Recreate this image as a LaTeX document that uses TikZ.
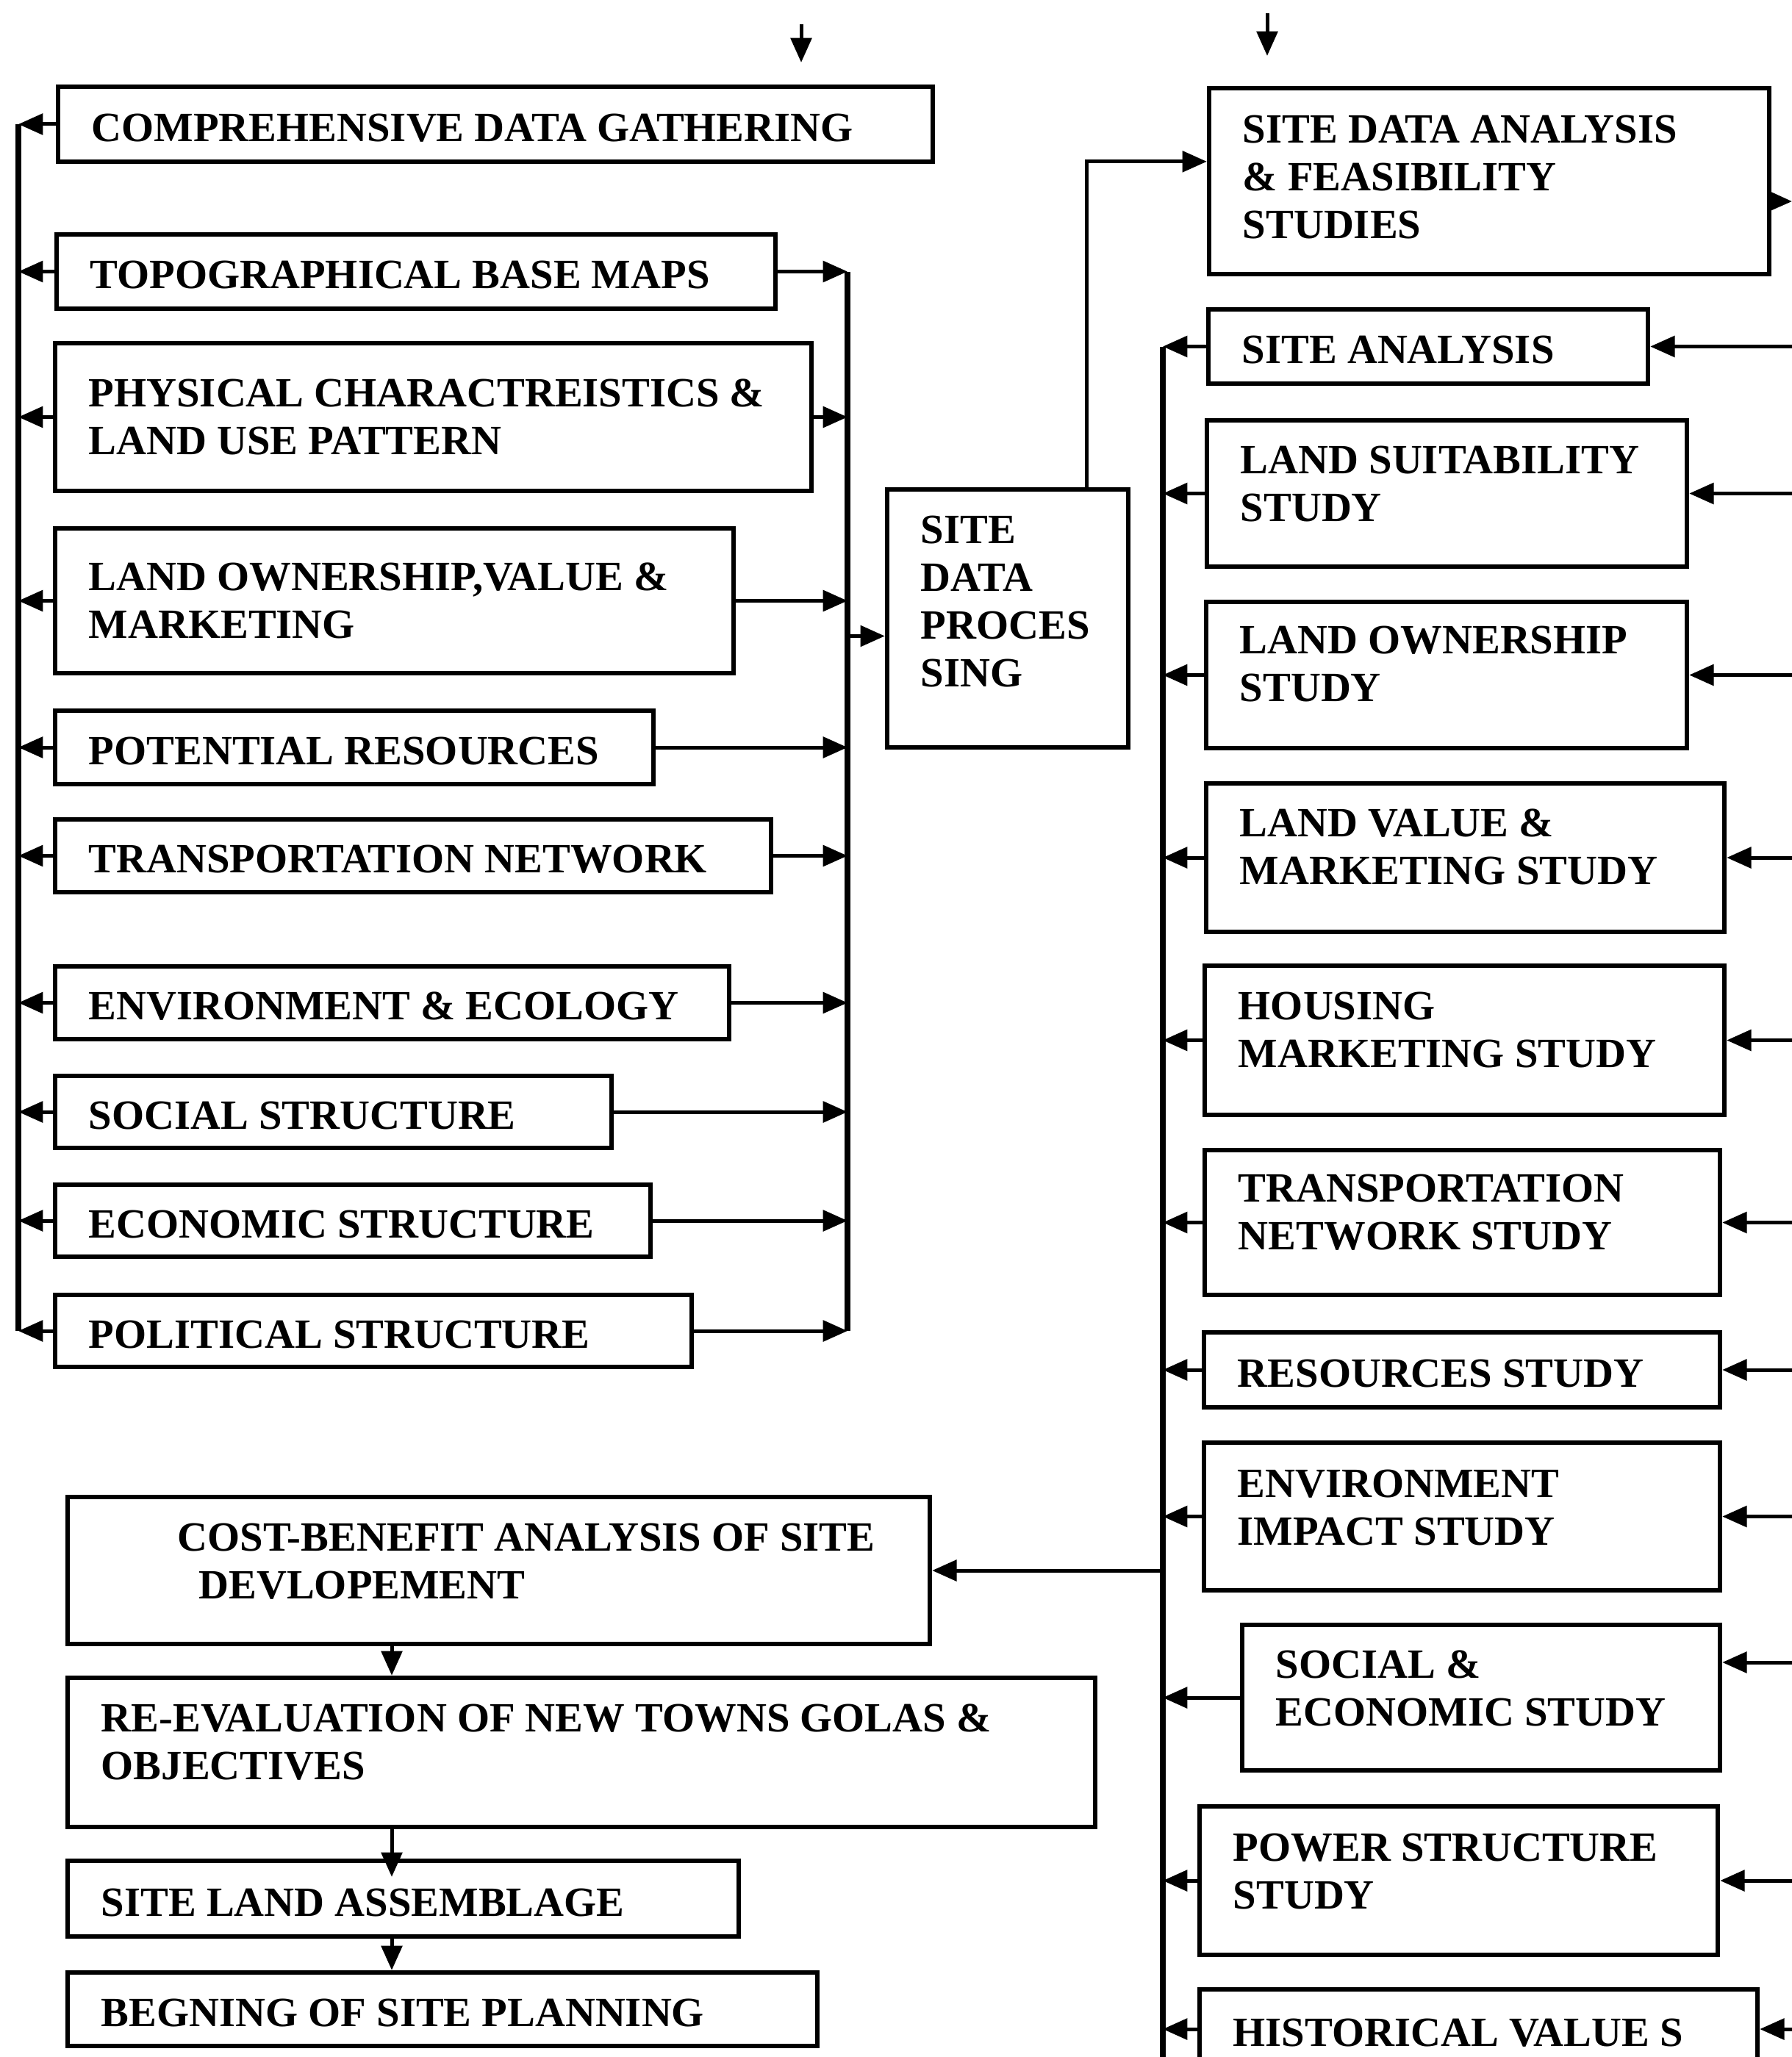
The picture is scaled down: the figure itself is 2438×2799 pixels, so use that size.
\documentclass[tikz,border=0pt]{standalone}
\usepackage{fontspec}
\setmainfont{Liberation Serif}
\usetikzlibrary{arrows.meta}

% framed box with left-set text: [lift]{name}{x1}{y1}{x2}{y2}{text}
\newcommand{\fbx}[7][-1.5pt]{%
  \pgfmathsetmacro\bxw{(#5-#3)*0.3}%
  \pgfmathsetmacro\bxh{(#6-#4)*0.3}%
  \node[fbox, minimum width=\bxw pt, minimum height=\bxh pt] (#2) at ({(#3+#5)/2},{(#4+#6)/2}) {};%
  \node[ftext] (#2-t) at ([xshift=14.5pt,yshift=#1]#2.west) {#7};%
}

\begin{document}
\begin{tikzpicture}[x=0.3pt,y=-0.3pt,
  fbox/.style={draw, line width=1.9pt, inner sep=0pt},
  ftext/.style={font=\fontsize{17}{19.5}\selectfont\bfseries, align=left, inner sep=0pt, anchor=west},
  conn/.style={line width=1.5pt, -{Triangle[length=10pt,width=8.5pt]}},
  bus/.style={line width=2.3pt}]
\useasboundingbox (0,0) rectangle (2438,2799);
\clip (0,0) rectangle (2438,2799);
\fill[white] (0,0) rectangle (2438,2799);

% data gathering column
\fbx{cdg}{79}{118}{1269}{220}{COMPREHENSIVE DATA GATHERING}
\fbx{topo}{77}{319}{1055}{420}{TOPOGRAPHICAL BASE MAPS}
\fbx[0pt]{phys}{75}{467}{1104}{668}{PHYSICAL CHARACTREISTICS \&\\LAND USE PATTERN}
\fbx[0pt]{lov}{75}{719}{998}{916}{LAND OWNERSHIP,VALUE \&\\MARKETING}
\fbx{pot}{75}{967}{889}{1067}{POTENTIAL RESOURCES}
\fbx{trn}{75}{1115}{1049}{1214}{TRANSPORTATION NETWORK}
\fbx{env}{75}{1315}{992}{1414}{ENVIRONMENT \& ECOLOGY}
\fbx{soc}{75}{1464}{832}{1562}{SOCIAL STRUCTURE}
\fbx{eco}{75}{1612}{885}{1710}{ECONOMIC STRUCTURE}
\fbx{pol}{75}{1762}{941}{1860}{POLITICAL STRUCTURE}

% processing
\fbx[7pt]{sdp}{1207}{666}{1535}{1017}{SITE\\DATA\\PROCES\\SING}

% analysis column
\fbx[1.6pt]{sda}{1645}{120}{2407}{373}{SITE DATA ANALYSIS\\\& FEASIBILITY\\STUDIES}
\fbx{sa}{1644}{421}{2242}{522}{SITE ANALYSIS}
\fbx[3.8pt]{lss}{1642}{572}{2295}{771}{LAND SUITABILITY\\STUDY}
\fbx[4.5pt]{los}{1641}{819}{2295}{1018}{LAND OWNERSHIP\\STUDY}
\fbx[4.5pt]{lvm}{1641}{1066}{2346}{1268}{LAND VALUE \&\\MARKETING STUDY}
\fbx[4.3pt]{hms}{1639}{1314}{2346}{1517}{HOUSING\\MARKETING STUDY}
\fbx[4.3pt]{tns}{1639}{1565}{2340}{1762}{TRANSPORTATION\\NETWORK STUDY}
\fbx{rs}{1638}{1813}{2340}{1915}{RESOURCES STUDY}
\fbx[3.5pt]{eis}{1638}{1963}{2340}{2164}{ENVIRONMENT\\IMPACT STUDY}
\fbx[3.8pt]{ses}{1690}{2211}{2340}{2409}{SOCIAL \&\\ECONOMIC STUDY}
\fbx[3.8pt]{pss}{1632}{2458}{2337}{2660}{POWER STRUCTURE\\STUDY}
\fbx{hv}{1632}{2707}{2391}{2815}{HISTORICAL VALUE S}

% evaluation chain
\fbx[3.8pt]{cb}{92}{2037}{1265}{2237}{\hspace*{31.2pt}COST-BENEFIT ANALYSIS OF SITE\\\hspace*{39.8pt}DEVLOPEMENT}
\fbx[4.3pt]{re}{92}{2283}{1490}{2486}{RE-EVALUATION OF NEW TOWNS GOLAS \&\\OBJECTIVES}
\fbx{sla}{92}{2532}{1005}{2635}{SITE LAND ASSEMBLAGE}
\fbx{beg}{92}{2684}{1112}{2784}{BEGNING OF SITE PLANNING}

% bus positions and free ends
\coordinate (lbus) at (25,0);
\coordinate (mbus) at (1153,0);
\coordinate (rbus) at (1582,0);
\coordinate (redge) at (2438,0);
\coordinate (vcol) at (533,0);
\coordinate (rbusend) at (1582,2799);
\coordinate (in1a) at (1090,33);
\coordinate (in1b) at (1090,85);
\coordinate (in2a) at (1724,18);
\coordinate (in2b) at (1724,76);
\coordinate (sdaout) at (2438,274);

% incoming arrows at the top
\draw[conn] (in1a) -- (in1b);
\draw[conn] (in2a) -- (in2b);

% left collector
\draw[bus] (cdg.west -| lbus) -- (pol.west -| lbus);
\foreach \n in {cdg,topo,phys,lov,pot,trn,env,soc,eco,pol}
  \draw[conn] (\n.west) -- (\n.west -| lbus);

% right collector into processing
\draw[bus] (topo.east -| mbus) -- (pol.east -| mbus);
\foreach \n in {topo,phys,lov,pot,trn,env,soc,eco,pol}
  \draw[conn] (\n.east) -- (\n.east -| mbus);
\draw[conn] ([yshift=-7.2pt]sdp.west -| mbus) -- ([yshift=-7.2pt]sdp.west);

% processing to analysis
\draw[conn] ([xshift=32.1pt]sdp.north) |- ([yshift=8pt]sda.west);
\draw[conn] ([yshift=-8.2pt]sda.east) -- (sdaout);

% analysis collector
\draw[bus] (sa.west -| rbus) -- (rbusend);
\foreach \n in {sa,lss,los,lvm,hms,tns,rs,eis,ses,pss,hv}
  \draw[conn] (\n.west) -- (\n.west -| rbus);
\foreach \n in {sa,lss,los,lvm,hms,tns,rs,eis,pss,hv}
  \draw[conn] (\n.east -| redge) -- (\n.east);
\draw[conn] ([yshift=14.4pt]ses.east -| redge) -- ([yshift=14.4pt]ses.east);

% evaluation chain
\draw[conn] (cb.east -| rbus) -- (cb.east);
\draw[conn] (cb.south -| vcol) -- (re.north -| vcol);
\draw[conn] (re.south -| vcol) -- ([yshift=-7.5pt]sla.north -| vcol);
\draw[conn] (sla.south -| vcol) -- (beg.north -| vcol);
\end{tikzpicture}
\end{document}
